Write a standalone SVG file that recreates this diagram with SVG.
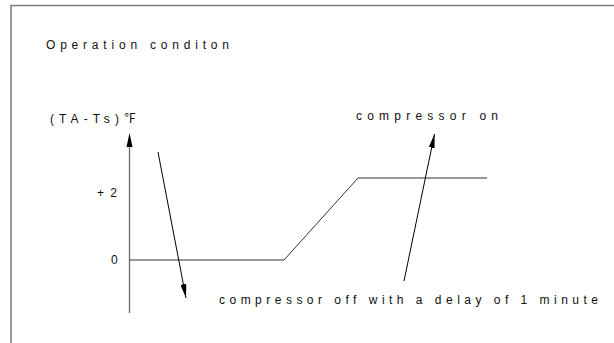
<svg xmlns="http://www.w3.org/2000/svg" width="614" height="343" viewBox="0 0 614 343">
<defs>
<style>
.t{font-family:"Liberation Sans",Arial,sans-serif;font-size:12px;fill:#111}
.frame{stroke:#808080;stroke-width:1.6;fill:none}
.ax{stroke:#6a6a6a;stroke-width:1.3;fill:none}
.ln{stroke:#333;stroke-width:1;fill:none}
.arr{stroke:#000;stroke-width:1;fill:none;marker-end:url(#ah)}
</style>
<marker id="ah" viewBox="0 0 14 6" refX="14" refY="3" markerWidth="14" markerHeight="6" markerUnits="userSpaceOnUse" orient="auto">
<path d="M0,0 L14,3 L0,6 Z" fill="#000"/>
</marker>
</defs>
<rect width="614" height="343" fill="#fff"/>
<g id="frame">
<path class="frame" d="M11,343 V5.5 H614"/>
</g>
<g id="title">
<text class="t" x="46" y="49" textLength="183" lengthAdjust="spacing">Operation conditon</text>
</g>
<g id="axis">
<path class="ax" d="M129.5,313 V146"/>
<path d="M126.5,147 L129.5,133 L132.5,147 Z" fill="#000"/>
<text class="t" x="50" y="123" textLength="86" lengthAdjust="spacing">(TA-Ts)<tspan style="font-family:'Noto Sans CJK SC',serif">℉</tspan></text>
<text class="t" x="97" y="197" textLength="20" lengthAdjust="spacing">+2</text>
<text class="t" x="111" y="264">0</text>
</g>
<g id="curve">
<path class="ln" d="M130,260 H284 L358,178 H487"/>
</g>
<g id="connectors">
<line class="arr" x1="158" y1="152" x2="186" y2="298"/>
<line class="arr" x1="404" y1="281" x2="434.5" y2="134"/>
</g>
<g id="label-on">
<text class="t" x="356" y="120" textLength="142" lengthAdjust="spacing">compressor on</text>
</g>
<g id="label-off">
<text class="t" x="219" y="304" textLength="379" lengthAdjust="spacing">compressor off with a delay of 1 minute</text>
</g>
</svg>
